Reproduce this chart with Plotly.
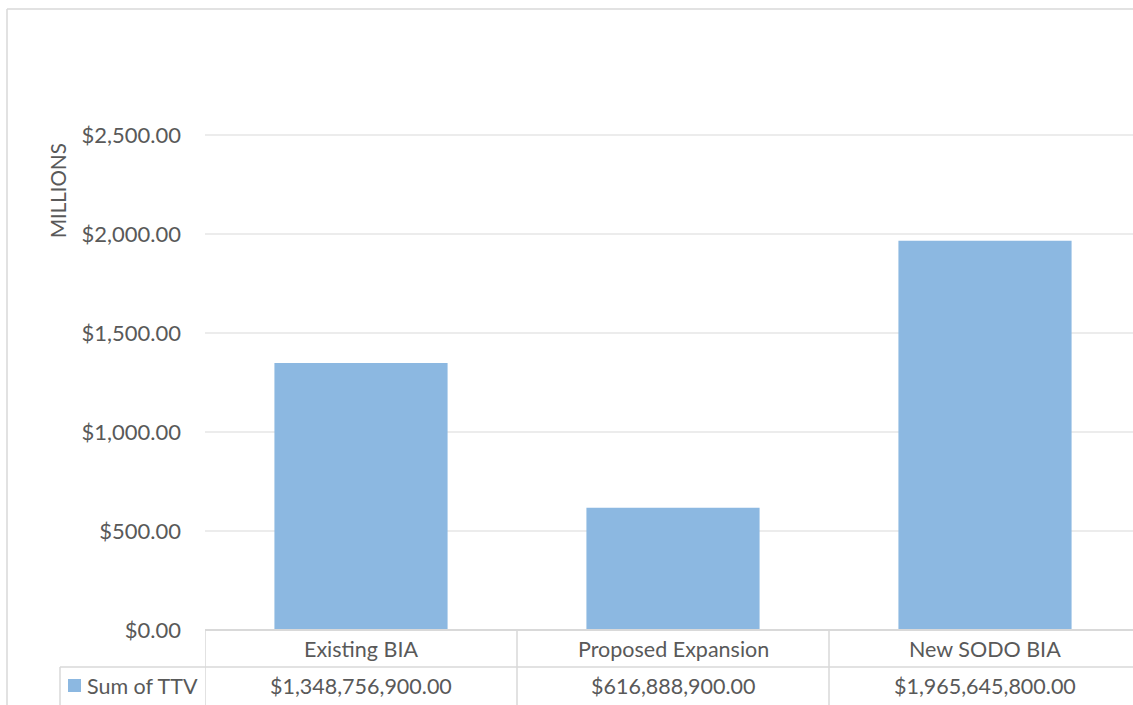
import plotly.graph_objects as go

# Data (values in millions of dollars)
categories = ["Existing BIA", "Proposed Expansion", "New SODO BIA"]
ttv_values = [1348.7569, 616.8889, 1965.6458]
table_labels = ["$1,348,756,900.00", "$616,888,900.00", "$1,965,645,800.00"]
series_name = "Sum of TTV"
y_ticks = [0, 500, 1000, 1500, 2000, 2500]

BAR = "#8cb8e1"
GRID = "#ececec"
LINE = "#d9d9d9"
TEXT = "#595959"
FONT = "Lato"
TABLE_SIZE = 21.5

W, H = 1133, 705
ML, MB, MT = 205, 75, 100
PH = H - MB - MT          # plot height in px
PW = W - ML               # plot width in px
CAT_W = 312               # px per category


def py(p):
    """pixel row -> paper y"""
    return (H - MB - p) / PH


def px(p):
    """pixel column -> paper x"""
    return (p - ML) / PW


fig = go.Figure()
fig.add_trace(go.Bar(
    x=list(range(len(categories))), y=ttv_values, width=0.555,
    marker=dict(color=BAR, line=dict(width=0)), name=series_name,
    hoverinfo="skip",
))

shapes = []
# outer chart frame (top and left)
shapes.append(dict(type="line", xref="paper", yref="paper", x0=px(7), x1=1.02,
                   y0=py(9), y1=py(9), line=dict(color=LINE, width=1.5)))
shapes.append(dict(type="line", xref="paper", yref="paper", x0=px(7), x1=px(7),
                   y0=py(9), y1=py(720), line=dict(color=LINE, width=1.5)))
# data table grid
shapes.append(dict(type="line", xref="paper", yref="paper", x0=0, x1=1.02,
                   y0=py(630), y1=py(630), line=dict(color=LINE, width=2)))
shapes.append(dict(type="line", xref="paper", yref="paper", x0=px(60), x1=1.02,
                   y0=py(667), y1=py(667), line=dict(color=LINE, width=1.5)))
shapes.append(dict(type="line", xref="paper", yref="paper", x0=px(60), x1=px(60),
                   y0=py(667), y1=py(720), line=dict(color=LINE, width=1.5)))
for xb in [-0.5, 0.5, 1.5]:
    shapes.append(dict(type="line", xref="x", yref="paper", x0=xb, x1=xb,
                       y0=py(630), y1=py(720), line=dict(color=LINE, width=1.5)))
# legend key in table
shapes.append(dict(type="rect", xref="paper", yref="paper", x0=px(68), x1=px(81),
                   y0=py(692), y1=py(679), fillcolor=BAR, line=dict(width=0)))

annotations = []
for i, (c, v) in enumerate(zip(categories, table_labels)):
    annotations.append(dict(x=i, xref="x", y=py(649), yref="paper", text=c,
                            showarrow=False, xanchor="center", yanchor="middle",
                            font=dict(family=FONT, size=TABLE_SIZE, color=TEXT)))
    annotations.append(dict(x=i, xref="x", y=py(686), yref="paper", text=v,
                            showarrow=False, xanchor="center", yanchor="middle",
                            font=dict(family=FONT, size=TABLE_SIZE, color=TEXT)))
annotations.append(dict(x=px(85), xref="paper", y=py(686), yref="paper",
                        text=series_name, showarrow=False, xanchor="left",
                        yanchor="middle",
                        font=dict(family=FONT, size=TABLE_SIZE, color=TEXT)))
annotations.append(dict(x=px(58), xref="paper", y=py(191), yref="paper",
                        text="MILLIONS", textangle=-90, showarrow=False,
                        xanchor="center", yanchor="middle",
                        font=dict(family=FONT, size=20.5, color=TEXT)))

fig.update_layout(
    width=W, height=H,
    margin=dict(l=ML, r=0, t=MT, b=MB, pad=0),
    paper_bgcolor="white", plot_bgcolor="white",
    showlegend=False,
    xaxis=dict(range=[-0.5, -0.5 + PW / CAT_W], showticklabels=False,
               showgrid=False, zeroline=False, showline=False, fixedrange=True),
    yaxis=dict(range=[0, (H - MB - MT) / 0.198], tickvals=y_ticks,
               tickformat="$,.2f", showgrid=True, gridcolor=GRID, gridwidth=1.5,
               zeroline=False, showline=False, ticks="", ticklabelstandoff=23,
               tickfont=dict(family=FONT, size=22, color=TEXT)),
    shapes=shapes, annotations=annotations,
)

fig.write_html("out.html")
